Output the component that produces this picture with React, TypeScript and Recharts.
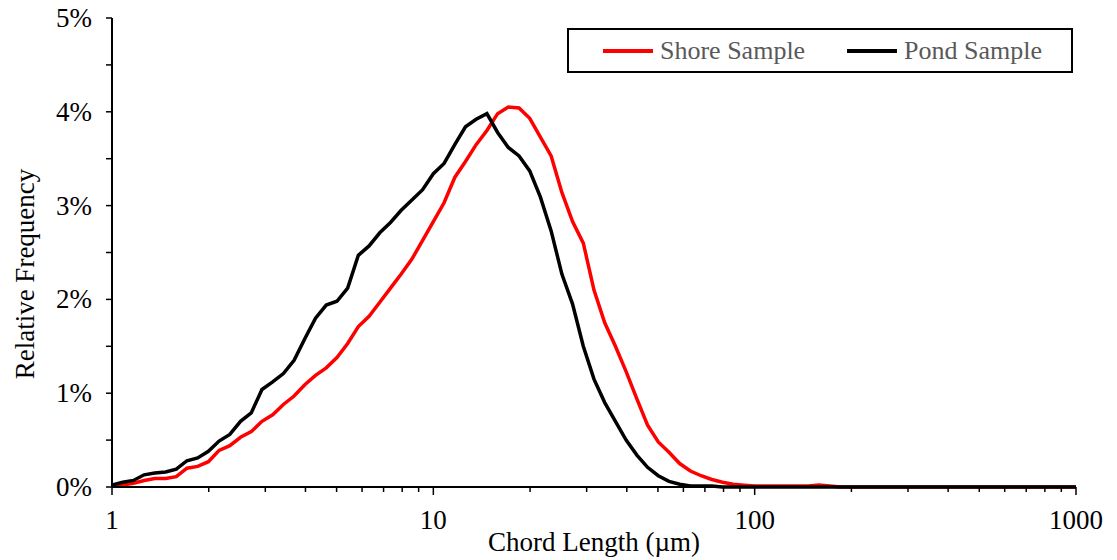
import { LineChart, Line, XAxis, YAxis } from 'recharts';

// chord length bins (µm), log spaced
const chordLength = [
  1.0, 1.08, 1.166, 1.259, 1.359, 1.468, 1.585, 1.711, 1.848, 1.995,
  2.154, 2.326, 2.512, 2.712, 2.929, 3.162, 3.415, 3.687, 3.981, 4.299,
  4.642, 5.012, 5.412, 5.843, 6.31, 6.813, 7.356, 7.943, 8.577, 9.261,
  10.0, 10.8, 11.66, 12.59, 13.59, 14.68, 15.85, 17.11, 18.48, 19.95,
  21.54, 23.26, 25.12, 27.12, 29.29, 31.62, 34.15, 36.87, 39.81, 42.99,
  46.42, 50.12, 54.12, 58.43, 63.1, 68.13, 73.56, 79.43, 85.77, 92.61,
  100.0, 108.0, 116.6, 125.9, 135.9, 146.8, 158.5, 171.1, 184.8, 199.5,
  300, 500, 700, 1000,
];

// relative frequency (%)
const shoreSample = [
  0.01, 0.02, 0.04, 0.07, 0.09, 0.09, 0.11, 0.2, 0.22, 0.27,
  0.39, 0.44, 0.53, 0.59, 0.7, 0.77, 0.88, 0.97, 1.09, 1.19,
  1.27, 1.38, 1.53, 1.71, 1.82, 1.97, 2.12, 2.27, 2.43, 2.63,
  2.83, 3.03, 3.3, 3.47, 3.65, 3.8, 3.98, 4.05, 4.04, 3.93,
  3.73, 3.53, 3.14, 2.83, 2.6, 2.1, 1.75, 1.5, 1.23, 0.94,
  0.66, 0.48, 0.37, 0.25, 0.17, 0.12, 0.08, 0.05, 0.03, 0.02,
  0.01, 0.01, 0.01, 0.01, 0.01, 0.01, 0.02, 0.01, 0, 0,
  0, 0, 0, 0,
];

const pondSample = [
  0.02, 0.05, 0.07, 0.13, 0.15, 0.16, 0.19, 0.28, 0.31, 0.38,
  0.49, 0.56, 0.7, 0.79, 1.04, 1.12, 1.21, 1.35, 1.58, 1.8,
  1.94, 1.98, 2.12, 2.47, 2.57, 2.71, 2.82, 2.95, 3.06, 3.17,
  3.34, 3.45, 3.65, 3.84, 3.92, 3.98, 3.78, 3.62, 3.53, 3.37,
  3.09, 2.73, 2.27, 1.95, 1.5, 1.15, 0.9, 0.7, 0.5, 0.34,
  0.21, 0.12, 0.06, 0.03, 0.01, 0.01, 0.01, 0, 0, 0,
  0, 0, 0, 0, 0, 0, 0, 0, 0, 0,
  0, 0, 0, 0,
];

const xMajor = [1, 10, 100, 1000];
const xMinor = [2, 3, 4, 5, 6, 7, 8, 9, 20, 30, 40, 50, 60, 70, 80, 90, 200, 300, 400, 500, 600, 700, 800, 900];
const yTicks = [0, 0.5, 1, 1.5, 2, 2.5, 3, 3.5, 4, 4.5, 5];

const seriesNames = ['Shore Sample', 'Pond Sample'];
const seriesColors = ['#ff0000', '#000000'];

const data = chordLength.map((x, i) => ({
  x,
  shore: shoreSample[i],
  pond: pondSample[i],
}));

const FONT = '"Liberation Serif", "Times New Roman", serif';
const FS = 27;

function XTick({ x, y, payload }: any) {
  const major = xMajor.includes(payload.value);
  return (
    <g>
      <line x1={x} x2={x} y1={y} y2={y + (major ? 8 : 5)} stroke="#000" strokeWidth={1.5} />
      {major && (
        <text x={x} y={y + 42} textAnchor="middle" fontFamily={FONT} fontSize={FS} fill="#000">
          {payload.value}
        </text>
      )}
    </g>
  );
}

function YTick({ x, y, payload }: any) {
  const major = Number.isInteger(payload.value);
  return (
    <g>
      <line x1={x} x2={x - 6} y1={y} y2={y} stroke="#000" strokeWidth={1.5} />
      {major && (
        <text x={x - 20} y={y + 9} textAnchor="end" fontFamily={FONT} fontSize={FS} fill="#000">
          {payload.value}%
        </text>
      )}
    </g>
  );
}

function Legend() {
  return (
    <div
      style={{
        position: 'absolute',
        left: 567,
        top: 28,
        width: 502,
        height: 41,
        border: '2px solid #000',
        background: '#fff',
        fontFamily: FONT,
        fontSize: FS - 1,
        color: '#595959',
      }}
    >
      {seriesNames.map((name, i) => (
        <div
          key={name}
          style={{ position: 'absolute', left: i === 0 ? 34 : 278, top: 0, height: 41, display: 'flex', alignItems: 'center' }}
        >
          <span style={{ display: 'inline-block', width: 50, height: 4, background: seriesColors[i], marginRight: 7 }} />
          <span>{name}</span>
        </div>
      ))}
    </div>
  );
}

export default function App() {
  return (
    <div style={{ position: 'absolute', left: 0, top: 0, width: 1117, height: 560, background: '#fff' }}>
      <LineChart width={1117} height={560} data={data} margin={{ top: 18, right: 41, bottom: 0, left: 0 }}>
        <XAxis
          dataKey="x"
          type="number"
          scale="log"
          domain={[1, 1000]}
          ticks={[...xMajor, ...xMinor]}
          interval={0}
          allowDataOverflow
          height={73}
          tickSize={0}
          tickMargin={0}
          tickLine={false}
          axisLine={{ stroke: '#000', strokeWidth: 2 }}
          tick={<XTick />}
          label={{
            content: () => (
              <text x={594} y={551} textAnchor="middle" fontFamily={FONT} fontSize={FS} fill="#000">
                Chord Length (µm)
              </text>
            ),
          }}
        />
        <XAxis
          xAxisId="top"
          orientation="top"
          dataKey="x"
          type="number"
          scale="log"
          domain={[1, 1000]}
          height={0}
          tick={false}
          tickLine={false}
          axisLine={{ stroke: '#000', strokeWidth: 2 }}
        />
        <YAxis
          type="number"
          domain={[0, 5]}
          ticks={yTicks}
          interval={0}
          width={112}
          tickSize={0}
          tickMargin={0}
          tickLine={false}
          axisLine={{ stroke: '#000', strokeWidth: 2 }}
          tick={<YTick />}
          label={{
            content: () => (
              <text
                x={34}
                y={274}
                textAnchor="middle"
                transform="rotate(-90 34 274)"
                fontFamily={FONT}
                fontSize={FS}
                fill="#000"
              >
                Relative Frequency
              </text>
            ),
          }}
        />
        <YAxis
          yAxisId="right"
          orientation="right"
          type="number"
          domain={[0, 5]}
          width={0}
          tick={false}
          tickLine={false}
          axisLine={{ stroke: '#000', strokeWidth: 2 }}
        />
        <Line
          dataKey="shore"
          name={seriesNames[0]}
          stroke={seriesColors[0]}
          strokeWidth={3.5}
          dot={false}
          type="linear"
          isAnimationActive={false}
        />
        <Line
          dataKey="pond"
          name={seriesNames[1]}
          stroke={seriesColors[1]}
          strokeWidth={3.5}
          dot={false}
          type="linear"
          isAnimationActive={false}
        />
      </LineChart>
      <Legend />
    </div>
  );
}
